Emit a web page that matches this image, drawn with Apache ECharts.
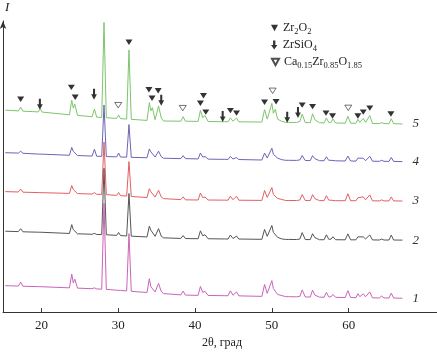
<!DOCTYPE html>
<html>
<head>
<meta charset="utf-8">
<script src="https://cdn.jsdelivr.net/npm/echarts@6/dist/echarts.min.js"></script>
<style>
html, body { margin: 0; padding: 0; background: #fff; }
#chart { width: 437px; height: 354px; }
</style>
</head>
<body>
<div id="chart"></div>
<script>
// 2θ sample points shared by all patterns
const theta = [15.3,17.0,17.3,17.6,19.6,19.85,20.1, 23.65,23.95,24.15,24.35,24.7, 26.6,26.9,27.2,27.85,28.15,28.45,
  29.8,30.05,30.3,31.1,31.4,31.7, 33.75,34.05,34.25,34.45,34.8,34.95,35.25,35.6,35.9, 38.15,38.45,38.75,
  40.4,40.7,41.0,41.3,41.7, 43.4,43.6,43.8,44.3,44.6,44.95,45.1,45.4,45.7,
  48.7,49.05,49.4,49.65,50.0,50.2,50.45,50.75,51.0,51.3,51.8,52.0,52.2, 53.2,53.45,53.65,53.95,54.35,
  55.0,55.3,55.6,55.85,56.2, 56.8,57.1,57.4,57.7,57.95,58.3, 59.55,59.9,60.25,
  60.95,61.2,61.45,61.9,62.2,62.45,62.75,63.1, 64.0,64.3,64.6, 65.25,65.55,65.85,67.0];

// intensities (arbitrary units, curves shifted vertically)
const curve5 = [204,203.2,207,202.9,202.2,205,202, 199.3,214,206,209.9,198.7, 197.3,205.1,196.9,196.6,292.5,196.3,
  195.6,199,195.4,195,264.8,194.7, 193.6,211.5,203.4,206.4,194.3,193.3,208.2,196.1,193, 192.8,197.3,192.8,
  192.6,203.6,196.5,198.5,192.5, 192.3,194.3,192.3,192.2,196.2,192.7,192.2,196.2,192.2,
  191.9,204.4,194.9,194.9,210.8,200.8,204.8,194.8,196.7,192.7,191.6,193.6,191.6, 191.5,193.5,192.5,199.9,191.4,
  191.3,200.3,194.3,196.2,191.2, 191.1,196.1,191.6,191.5,195,191, 190.8,197.8,190.8,
  190.7,194.7,191.7,195.6,191.6,191,198.5,190.5, 190.4,191.4,190.4, 190.3,195.3,190.3,190];
const curve4 = [161,160.6,162.5,160.4,159.6,161,159.5, 158.4,166.3,162.3,164.2,158.1, 157.6,164.5,157.4,157.3,209.2,157.1,
  156.8,160.7,156.6,156.5,189.4,156.3, 155.9,164.8,161.8,162.7,156.6,155.6,162.5,157,155.4, 155,158,155,
  154.7,160.7,156.6,157.1,154.5, 154.3,155.3,154.3,154.2,157.2,154.6,154.1,156.1,154.1,
  153.6,160.6,155.6,155.6,165.5,159.5,161.5,155.5,156.4,153.9,153.3,154.3,153.3, 153.2,154.2,153.7,158.1,153.1,
  153,158,155,155.9,152.9, 152.9,156.9,153.3,153.3,154.8,152.8, 152.6,157.6,152.6,
  152.5,155.5,153.5,155.4,152.9,152.8,157.4,152.4, 152.3,153.3,152.3, 152.2,156.2,152.2,152];
const curve3 = [121.7,121.3,124.2,121.1,120.7,121.6,120.6, 119.9,127.8,123.8,124.7,119.7, 119.2,120.6,119,118.8,171.7,118.6,
  117.9,120.8,117.6,117.2,152,116.8, 115.7,124.6,121.5,122.4,116.2,115.1,123,116.3,114.6, 113.6,116.4,113.4,
  113.2,120.2,115.7,116.2,113.2, 113.1,113.6,113.1,113,117,113.5,113,117,113,
  112.8,122.8,115.8,115.8,125.8,118.8,120.8,114.8,116.8,113.8,112.7,113.7,112.7, 112.7,113.7,113.2,118.7,112.7,
  112.6,118.6,114.6,115.6,112.6, 112.6,117.6,113.1,113,114.5,112.5, 112.5,119.5,112.5,
  112.5,115.5,113.5,116.4,113.4,112.8,118.4,112.4, 112.3,113.3,112.3, 112.3,116.3,112.3,112.2];
const curve2 = [81.7,81.3,84.2,81.1,80.7,81.6,80.6, 79.4,88.3,83.3,85.2,79.1, 78.6,79.5,78.4,78.3,145.2,78.1,
  77.5,80.4,77.3,76.9,119.8,76.7, 75.9,86.8,82.7,83.6,76.5,75.4,84.3,76.7,75, 74.4,77.3,74.3,
  74.1,82.1,77.1,78.1,74.1, 73.9,74.4,73.9,73.8,77.8,74.3,73.8,76.8,73.8,
  73.5,83.5,76.5,76.5,87.5,80.5,80.5,75.5,76.4,73.9,73.4,74.4,73.4, 73.3,74.3,73.8,80.3,73.3,
  73.2,79.2,75.2,77.2,73.1, 73.1,78.1,73.6,73.6,76.1,73.1, 73,79,73,
  73,76,74,75.9,73.9,73.3,77.9,72.9, 72.8,73.8,72.8, 72.8,77.8,72.8,72.7];
const curve1 = [26.7,26.3,30.2,26.1,25.7,26.6,25.6, 24.5,38.4,29.4,33.3,24.2, 23.6,24.5,23.4,23.2,110.1,23,
  22.1,23,21.9,21.4,79.2,21, 19.8,33.7,25.6,26.5,20.3,19.2,29,20.8,18.7, 17.4,21.2,17.2,
  16.9,25.9,19.9,20.9,16.8, 16.6,17.1,16.6,16.5,21.5,17,16.4,20.4,16.4,
  15.9,27.9,18.9,18.9,31.8,23.8,24.8,17.8,19.7,16.7,15.6,16.6,15.6, 15.4,16.4,15.9,22.4,15.3,
  15.2,22.2,17.2,19.1,15.1, 15,20,15.5,15.4,17.9,14.9, 14.7,21.7,14.7,
  14.6,18.6,15.6,18.5,15.5,14.9,20.4,14.4, 14.3,16.3,14.3, 14.2,19.2,14.2,14];

// phase markers [2θ, height]
const zro2Marks = [[17.3,215],[23.9,227],[24.4,217],[28.15,302],[31.4,272.5],[34.0,224.5],[34.4,216],[35.2,223.5],
  [40.7,211],[41.1,218.5],[41.4,202],[44.6,203.5],[45.4,201],[49.05,212],[50.55,212.5],[53.95,209],[55.3,207.5],
  [57.05,201],[57.9,198],[61.2,198],[61.9,202],[62.75,206],[65.5,200]];
const zrsio4Marks = [[19.8,210],[26.85,220],[35.6,214],[43.6,197.5],[52.0,196.7],[53.4,201.7]];
const caMarks = [[30.0,209],[38.4,206],[50.1,223.5],[59.95,206.3]];

const xTicks = [20, 30, 40, 50, 60];
const curveNames = ['5', '4', '3', '2', '1'];
const curveColors = ['#7dc56c', '#6c64b8', '#e45f63', '#555555', '#cc63b8'];
const curves = [curve5, curve4, curve3, curve2, curve1];
const phaseNames = ['Zr2O2', 'ZrSiO4', 'Ca0.15Zr0.85O1.85'];

const legendText = {
    'Zr2O2': 'Zr{s|2}O{s|2}',
    'ZrSiO4': 'ZrSiO{s|4}',
    'Ca0.15Zr0.85O1.85': 'Ca{s|0.15}Zr{s|0.85}O{s|1.85}'
};

const serif = 'Liberation Serif';
const triPath = 'path://M0,0 L10,0 L5,9 Z';
const arrowPath = 'path://M3.2,0 L6.8,0 L6.8,7 L10,7 L5,14 L0,7 L3.2,7 Z';

let chart = echarts.init(document.getElementById('chart'));

let series = curves.map((arr, i) => ({
    type: 'line',
    name: curveNames[i],
    data: arr.map((v, k) => [theta[k], v]),
    showSymbol: false,
    animation: false,
    lineStyle: { color: curveColors[i], width: 1 },
    itemStyle: { color: curveColors[i] },
    endLabel: {
        show: true,
        formatter: p => p.seriesName,
        distance: 10,
        fontFamily: serif,
        fontStyle: 'italic',
        fontSize: 13,
        color: '#333'
    }
}));

series.push({
    type: 'scatter', name: phaseNames[0], data: zro2Marks,
    symbol: triPath, symbolSize: [7, 6], symbolKeepAspect: true,
    itemStyle: { color: '#000' }, z: 5
});
series.push({
    type: 'scatter', name: phaseNames[1], data: zrsio4Marks,
    symbol: arrowPath, symbolSize: [8, 11], symbolKeepAspect: true,
    itemStyle: { color: '#000' }, z: 5
});
series.push({
    type: 'scatter', name: phaseNames[2], data: caMarks,
    symbol: triPath, symbolSize: [7, 6], symbolKeepAspect: true,
    itemStyle: { color: '#fff', borderColor: '#222', borderWidth: 0.8 }, z: 5
});

// one legend per phase so each row sits where it does in the figure
let legends = phaseNames.map((n, i) => ({
    data: [n],
    left: 266,
    top: 15 + i * 17,
    itemWidth: 7,
    itemHeight: 9,
    selectedMode: false,
    formatter: name => legendText[name],
    textStyle: {
        fontFamily: serif, fontSize: 12, color: '#222', lineHeight: 16,
        rich: {
            s: { fontFamily: serif, fontSize: 8.5, color: '#222', lineHeight: 9, verticalAlign: 'bottom' }
        }
    }
}));

chart.setOption({
    animation: false,
    backgroundColor: '#fff',
    grid: { left: 3, right: 0, top: 21, bottom: 39 },
    legend: legends,
    xAxis: {
        type: 'value',
        min: 15,
        max: 71.5,
        name: '2θ, град',
        nameLocation: 'middle',
        nameGap: 24,
        nameTextStyle: { fontFamily: serif, fontSize: 12, color: '#222', padding: [0, 0, 0, 4] },
        axisLine: { lineStyle: { color: '#333', width: 1 } },
        axisTick: { inside: true, length: 4, customValues: xTicks, lineStyle: { color: '#333' } },
        axisLabel: { customValues: xTicks, margin: 7, fontFamily: serif, fontSize: 13, color: '#222' },
        splitLine: { show: false }
    },
    yAxis: {
        type: 'value',
        min: 0,
        max: 294,
        name: 'I',
        nameLocation: 'end',
        nameGap: 7,
        nameTextStyle: { fontFamily: serif, fontStyle: 'italic', fontSize: 13, color: '#222', align: 'left', padding: [0, 0, 0, 2] },
        axisLine: { show: true, symbol: ['none', 'arrow'], symbolSize: [5, 8], lineStyle: { color: '#333', width: 1 } },
        axisTick: { show: false },
        axisLabel: { show: false },
        splitLine: { show: false }
    },
    series: series
});
</script>
</body>
</html>
